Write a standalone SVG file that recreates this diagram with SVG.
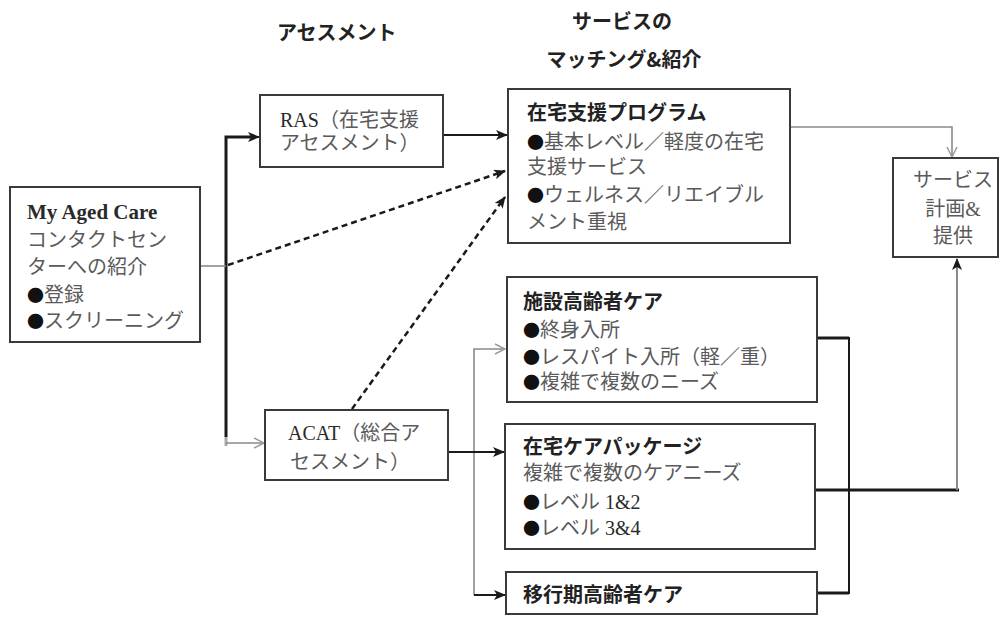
<svg xmlns="http://www.w3.org/2000/svg" width="1006" height="617" viewBox="0 0 1006 617">
<style>
.box{fill:#fff;stroke:#3a3a3a;stroke-width:2}
.hd{font-family:"Noto Sans CJK JP","Noto Sans",sans-serif;font-weight:700;font-size:20px;fill:#222}
.tt{font-family:"Noto Sans CJK JP","Noto Sans",sans-serif;font-weight:700;font-size:20px;fill:#222}
.jp{font-family:"Liberation Serif","Noto Sans CJK JP",serif;font-size:20px;fill:#5a5a5a}
.lt{font-family:"Liberation Serif","Noto Sans CJK JP",serif;fill:#2a2a2a}
.b{font-family:"Noto Sans CJK JP",sans-serif;font-size:17px;fill:#111}
.blk{fill:none;stroke:#1a1a1a}
.gry{fill:none;stroke:#8a8a8a;stroke-width:1.6}
.dash{fill:none;stroke:#1a1a1a;stroke-width:2.5;stroke-dasharray:6 4}
</style>
<defs>
<marker id="ah" viewBox="0 0 12 10" refX="11" refY="5" markerWidth="12" markerHeight="10" markerUnits="userSpaceOnUse" orient="auto"><path d="M0,0 L12,5 L0,10 L3,5 Z" fill="#1a1a1a"/></marker>
<marker id="oh" viewBox="0 0 12 12" refX="11" refY="6" markerWidth="12" markerHeight="12" markerUnits="userSpaceOnUse" orient="auto"><path d="M1,1 L11,6 L1,11" fill="none" stroke="#9a9a9a" stroke-width="1.5"/></marker>
</defs>
<rect width="1006" height="617" fill="#fff"/>

<g id="headers">
<text class="hd" x="277" y="40">アセスメント</text>
<text class="hd" x="622" y="29" text-anchor="middle">サービスの</text>
<text class="hd" x="624" y="67" text-anchor="middle">マッチング&amp;紹介</text>
</g>

<g id="connectors">
<polyline class="blk" stroke-width="3" points="226,437 226,137 250,137"/>
<line class="blk" stroke-width="2" x1="250" y1="137" x2="259" y2="137" marker-end="url(#ah)"/>
<line x1="226" y1="437" x2="226" y2="446" stroke="#aaa" stroke-width="3"/>
<line class="gry" x1="226" y1="443" x2="264" y2="443" marker-end="url(#oh)"/>
<line class="gry" x1="200" y1="266" x2="226" y2="266"/>
<line class="dash" x1="228" y1="265" x2="505" y2="171" marker-end="url(#ah)"/>
<line class="dash" x1="352" y1="409" x2="505" y2="197" marker-end="url(#ah)"/>
<line class="blk" stroke-width="2" x1="443" y1="135" x2="507" y2="135" marker-end="url(#ah)"/>
<polyline class="gry" points="790,127 952,127 952,157" marker-end="url(#oh)"/>
<polyline class="gry" stroke-width="2" points="474,595 474,349 505,349" marker-end="url(#oh)"/>
<line class="blk" stroke-width="2" x1="448" y1="452" x2="504" y2="452" marker-end="url(#ah)"/>
<line class="blk" stroke-width="2" x1="474" y1="595" x2="505" y2="595" marker-end="url(#ah)"/>
<polyline class="blk" stroke-width="2" points="817,338 849,338 849,593 817,593"/>
<line class="blk" stroke-width="3" x1="817" y1="338" x2="849" y2="338"/>
<line class="blk" stroke-width="3" x1="817" y1="593" x2="849" y2="593"/>
<line class="blk" stroke-width="3" x1="815" y1="490" x2="959" y2="490"/>
<line x1="957" y1="490" x2="957" y2="259" stroke="#8a8a8a" stroke-width="2" marker-end="url(#ah)"/>
</g>

<g id="mac">
<rect class="box" x="10" y="187" width="190" height="155"/>
<text class="lt" x="27" y="219" font-size="21" font-weight="700">My Aged Care</text>
<text class="jp" x="27" y="247">コンタクトセン</text>
<text class="jp" x="27" y="274">ターへの紹介</text>
<text class="jp" x="27" y="302"><tspan class="b">●</tspan>登録</text>
<text class="jp" x="27" y="328"><tspan class="b">●</tspan>スクリーニング</text>
</g>

<g id="ras">
<rect class="box" x="260" y="95" width="183" height="72"/>
<text class="jp" x="280" y="127"><tspan class="lt" font-size="20">RAS</tspan>（在宅支援</text>
<text class="jp" x="280" y="150">アセスメント）</text>
</g>

<g id="acat">
<rect class="box" x="265" y="410" width="183" height="70"/>
<text class="jp" x="288" y="440"><tspan class="lt" font-size="20">ACAT</tspan>（総合ア</text>
<text class="jp" x="290" y="469">セスメント）</text>
</g>

<g id="chsp">
<rect class="box" x="508" y="89" width="282" height="154"/>
<text class="tt" x="527" y="120">在宅支援プログラム</text>
<text class="jp" x="527" y="149"><tspan class="b">●</tspan>基本レベル／軽度の在宅</text>
<text class="jp" x="527" y="174">支援サービス</text>
<text class="jp" x="527" y="202"><tspan class="b">●</tspan>ウェルネス／リエイブル</text>
<text class="jp" x="527" y="229">メント重視</text>
</g>

<g id="service">
<rect class="box" x="893" y="158" width="105" height="99"/>
<text class="jp" x="953" y="187" text-anchor="middle">サービス</text>
<text class="jp" x="953" y="216" text-anchor="middle">計画&amp;</text>
<text class="jp" x="953" y="243" text-anchor="middle">提供</text>
</g>

<g id="residential">
<rect class="box" x="507" y="277" width="310" height="125"/>
<text class="tt" x="523" y="309">施設高齢者ケア</text>
<text class="jp" x="523" y="337"><tspan class="b">●</tspan>終身入所</text>
<text class="jp" x="523" y="364"><tspan class="b">●</tspan>レスパイト入所（軽／重）</text>
<text class="jp" x="523" y="389"><tspan class="b">●</tspan>複雑で複数のニーズ</text>
</g>

<g id="hcp">
<rect class="box" x="505" y="424" width="310" height="125"/>
<text class="tt" x="523" y="454">在宅ケアパッケージ</text>
<text class="jp" x="523" y="480">複雑で複数のケアニーズ</text>
<text class="jp" x="523" y="509"><tspan class="b">●</tspan>レベル <tspan class="lt" font-size="20">1&amp;2</tspan></text>
<text class="jp" x="523" y="535"><tspan class="b">●</tspan>レベル <tspan class="lt" font-size="20">3&amp;4</tspan></text>
</g>

<g id="transition">
<rect class="box" x="506" y="572" width="311" height="42"/>
<text class="tt" x="523" y="602">移行期高齢者ケア</text>
</g>
</svg>
